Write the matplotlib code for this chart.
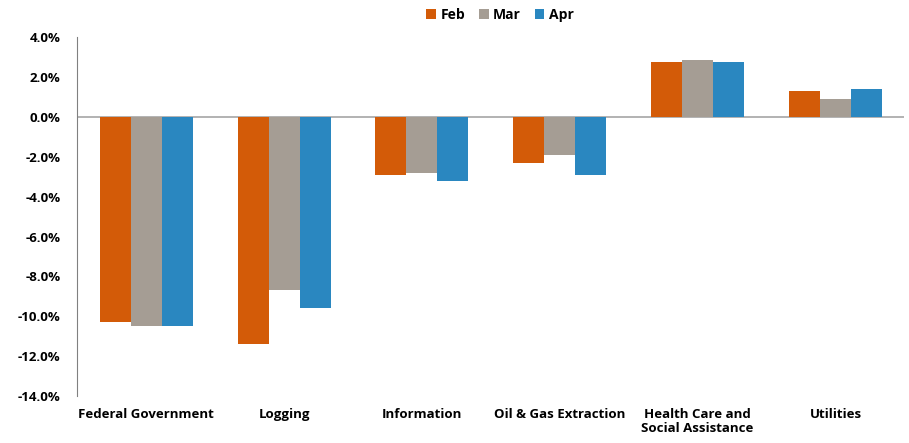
import matplotlib.pyplot as plt
import numpy as np

plt.rcParams['font.family'] = ['Open Sans', 'DejaVu Sans']

categories = ["Federal Government", "Logging", "Information", "Oil & Gas Extraction",
              "Health Care and\nSocial Assistance", "Utilities"]
months = ["Feb", "Mar", "Apr"]
feb = [-10.3, -11.4, -2.9, -2.3, 2.75, 1.3]
mar = [-10.5, -8.7, -2.8, -1.9, 2.85, 0.9]
apr = [-10.5, -9.6, -3.2, -2.9, 2.75, 1.4]
colors = ["#D35B08", "#A59D94", "#2A87C0"]

fig = plt.figure(figsize=(9.09, 4.43), dpi=100)
ax = fig.add_axes([0.085, 0.106, 0.91, 0.81])

x = np.arange(len(categories))
w = 0.225
for i, (vals, m) in enumerate(zip([feb, mar, apr], months)):
    ax.bar(x + (i - 1) * w, vals, w, color=colors[i], label=m)

ax.set_xlim(-0.5, len(categories) - 0.5)
ax.set_ylim(-14, 4)
ax.set_yticks(np.arange(-14, 5, 2))
ax.set_yticklabels([f"{v:.1f}%" for v in np.arange(-14, 5, 2)])
ax.axhline(0, color="#A6A6A6", lw=1.2, zorder=0)

ax.set_xticks([])
for xi, lab in zip(x, categories):
    ax.text(xi, -14.6, lab, ha="center", va="top", fontsize=9.5, fontweight="bold", linespacing=1.1)

for s in ["top", "right", "bottom"]:
    ax.spines[s].set_visible(False)
ax.spines["left"].set_color("#808080")
ax.tick_params(axis="y", length=0, labelsize=9.5, pad=12)
for t in ax.get_yticklabels():
    t.set_fontweight("bold")

fig.legend(loc="upper center", bbox_to_anchor=(0.55, 1.01), ncol=3, frameon=False,
           handlelength=0.7, handleheight=0.7, handletextpad=0.3, columnspacing=1.0,
           prop={"weight": "bold", "size": 10})

fig.savefig("out.png", dpi=100)
